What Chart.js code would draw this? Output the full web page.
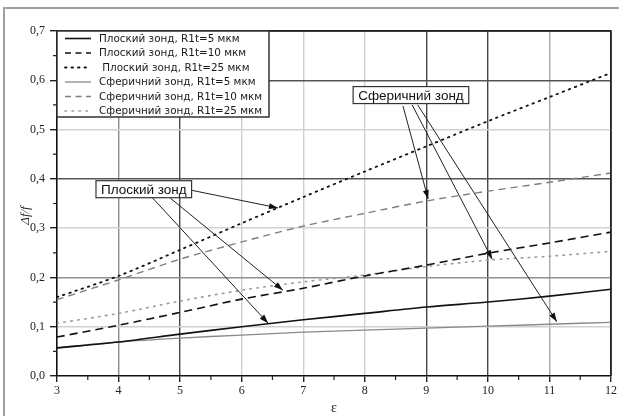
<!DOCTYPE html>
<html>
<head>
<meta charset="utf-8">
<script src="https://cdn.jsdelivr.net/npm/chart.js@4.4.1/dist/chart.umd.min.js"></script>
<style>
  html,body{margin:0;padding:0;background:#fff;}
  #wrap{position:relative;width:619px;height:416px;overflow:hidden;}
</style>
</head>
<body>
<div id="wrap"><canvas id="chart" width="619" height="416"></canvas></div>
<script>
// values
const eps = [3, 4, 5, 6, 7, 8, 9, 10, 11, 12];
const planeR5  = [0.057, 0.069, 0.085, 0.100, 0.114, 0.127, 0.140, 0.150, 0.162, 0.176];
const planeR10 = [0.079, 0.103, 0.129, 0.156, 0.178, 0.203, 0.225, 0.249, 0.270, 0.292];
const planeR25 = [0.160, 0.203, 0.256, 0.310, 0.363, 0.415, 0.466, 0.517, 0.566, 0.615];
const sphR5    = [0.057, 0.069, 0.077, 0.083, 0.089, 0.093, 0.097, 0.101, 0.105, 0.109];
const sphR10   = [0.155, 0.195, 0.237, 0.272, 0.304, 0.330, 0.355, 0.375, 0.393, 0.412];
const sphR25   = [0.107, 0.127, 0.152, 0.174, 0.191, 0.205, 0.222, 0.235, 0.243, 0.253];

const seriesLabels = [
  'Плоский зонд, R1t=5 мкм',
  'Плоский зонд, R1t=10 мкм',
  ' Плоский зонд, R1t=25 мкм',
  'Сферичний зонд, R1t=5 мкм',
  'Сферичний зонд, R1t=10 мкм',
  'Сферичний зонд, R1t=25 мкм'
];

const xTicks = [3, 4, 5, 6, 7, 8, 9, 10, 11, 12];
const xTickLabels = ['3', '4', '5', '6', '7', '8', '9', '10', '11', '12'];
const yTicks = [0, 0.1, 0.2, 0.3, 0.4, 0.5, 0.6, 0.7];
const yTickLabels = ['0,0', '0,1', '0,2', '0,3', '0,4', '0,5', '0,6', '0,7'];

const xTitle = 'ε';
const yTitle = 'Δf/f';

// callouts, in data units (eps, Δf/f)
const calloutTexts = ['Плоский зонд', 'Сферичний зонд'];
const calloutCenters = [[4.41, 0.379], [8.75, 0.570]];
const calloutArrows = [
  [[5.18, 0.377], [6.59, 0.341]],
  [[4.84, 0.361], [6.67, 0.174]],
  [[4.54, 0.363], [6.43, 0.107]],
  [[8.62, 0.548], [9.03, 0.359]],
  [[8.77, 0.550], [10.07, 0.237]],
  [[8.86, 0.550], [11.12, 0.110]]
];

// grid shading as it appears in the scan
const xGridColor = {4:'#8a8a8a', 5:'#474747', 6:'#cfcfcf', 7:'#cfcfcf', 8:'#cfcfcf', 9:'#474747', 10:'#474747', 11:'#a8a8a8', 12:'#222'};
const yGridColor = {1:'#cfcfcf', 2:'#8f8f8f', 3:'#d2d2d2', 4:'#555', 5:'#d2d2d2', 6:'#555', 7:'#222'};

const serif = '"Liberation Serif", "Times New Roman", serif';
const sans = '"Liberation Sans", Arial, sans-serif';
const wideSans = '"DejaVu Sans", Verdana, sans-serif';

const pts = (arr)=> arr.map((v, i)=>({ x: eps[i], y: v }));

const styles = [
  { color:'#111', width:1.6, dash:[] },
  { color:'#111', width:1.6, dash:[8, 5] },
  { color:'#111', width:1.8, dash:[1.5, 5] },
  { color:'#8a8a8a', width:1.3, dash:[] },
  { color:'#7d7d7d', width:1.4, dash:[7, 5] },
  { color:'#9a9a9a', width:1.6, dash:[1.5, 5.5] }
];
const seriesData = [planeR5, planeR10, planeR25, sphR5, sphR10, sphR25];

const datasets = seriesData.map((arr, i)=>({
  label: seriesLabels[i],
  data: pts(arr),
  borderColor: styles[i].color,
  borderWidth: styles[i].width,
  borderDash: styles[i].dash,
  borderCapStyle: i === 2 || i === 5 ? 'round' : 'butt',
  pointRadius: 0,
  fill: false,
  tension: 0.3
}));

const arrow = (ctx, x1, y1, x2, y2)=>{
  ctx.beginPath();
  ctx.moveTo(x1, y1);
  ctx.lineTo(x2, y2);
  ctx.stroke();
  const a = Math.atan2(y2 - y1, x2 - x1);
  const L = 9, W = 3;
  ctx.beginPath();
  ctx.moveTo(x2, y2);
  ctx.lineTo(x2 - L*Math.cos(a) + W*Math.sin(a), y2 - L*Math.sin(a) - W*Math.cos(a));
  ctx.lineTo(x2 - L*Math.cos(a) - W*Math.sin(a), y2 - L*Math.sin(a) + W*Math.cos(a));
  ctx.closePath();
  ctx.fill();
};

const extras = {
  id: 'extras',
  beforeDraw(chart){
    const ctx = chart.ctx;
    ctx.save();
    ctx.fillStyle = '#fff';
    ctx.fillRect(0, 0, chart.width, chart.height);
    // outer frame of the scan
    ctx.strokeStyle = '#a0a0a0';
    ctx.lineWidth = 2;
    ctx.strokeRect(4, 8, chart.width + 20, chart.height + 20);
    ctx.restore();
  },
  afterDatasetsDraw(chart){
    const ctx = chart.ctx;
    const xs = chart.scales.x, ys = chart.scales.y;
    const area = chart.chartArea;
    ctx.save();

    // frame top/right
    ctx.strokeStyle = '#222';
    ctx.lineWidth = 1.5;
    ctx.beginPath();
    ctx.moveTo(area.left, area.top);
    ctx.lineTo(area.right, area.top);
    ctx.lineTo(area.right, area.bottom);
    ctx.stroke();

    // minor ticks
    ctx.lineWidth = 1.2;
    ctx.beginPath();
    for(let v = 3.5; v < 12; v += 1){
      const px = xs.getPixelForValue(v);
      ctx.moveTo(px, area.bottom);
      ctx.lineTo(px, area.bottom + 4);
    }
    for(let v = 0.05; v < 0.7; v += 0.1){
      const py = ys.getPixelForValue(v);
      ctx.moveTo(area.left, py);
      ctx.lineTo(area.left - 4, py);
    }
    ctx.stroke();

    // legend
    const lx = area.left, ly = area.top, lw = 212, lh = 86;
    ctx.fillStyle = '#fff';
    ctx.fillRect(lx, ly, lw, lh);
    ctx.strokeStyle = '#333';
    ctx.lineWidth = 1.5;
    ctx.strokeRect(lx, ly, lw, lh);
    ctx.font = '10.4px ' + wideSans;
    ctx.textBaseline = 'middle';
    ctx.textAlign = 'left';
    chart.data.datasets.forEach((ds, i)=>{
      const ry = ly + 7.5 + i*14.5;
      ctx.strokeStyle = ds.borderColor;
      ctx.lineWidth = ds.borderWidth;
      ctx.lineCap = ds.borderCapStyle;
      ctx.setLineDash(i === 1 || i === 4 ? [6, 4.5] : ds.borderDash);
      ctx.beginPath();
      ctx.moveTo(lx + 8, ry);
      ctx.lineTo(lx + 34, ry);
      ctx.stroke();
      ctx.setLineDash([]);
      ctx.lineCap = 'butt';
      ctx.fillStyle = '#1a1a1a';
      ctx.fillText(ds.label, lx + 42, ry + 0.5);
    });

    // callouts
    ctx.strokeStyle = '#222';
    ctx.fillStyle = '#111';
    ctx.lineWidth = 1;
    calloutArrows.forEach(([s, e])=>{
      arrow(ctx, xs.getPixelForValue(s[0]), ys.getPixelForValue(s[1]),
                 xs.getPixelForValue(e[0]), ys.getPixelForValue(e[1]));
    });
    ctx.font = '13.5px ' + sans;
    ctx.textAlign = 'center';
    calloutTexts.forEach((t, i)=>{
      const cx = xs.getPixelForValue(calloutCenters[i][0]);
      const cy = ys.getPixelForValue(calloutCenters[i][1]);
      const w = ctx.measureText(t).width + 10, h = 17;
      ctx.fillStyle = '#fff';
      ctx.fillRect(cx - w/2, cy - h/2, w, h);
      ctx.strokeStyle = '#333';
      ctx.lineWidth = 1.2;
      ctx.strokeRect(cx - w/2, cy - h/2, w, h);
      ctx.fillStyle = '#111';
      ctx.fillText(t, cx, cy + 1);
    });

    // axis titles
    ctx.fillStyle = '#222';
    ctx.font = '14px ' + serif;
    ctx.fillText(xTitle, (area.left + area.right)/2, 408);
    ctx.translate(26, (area.top + area.bottom)/2 + 12);
    ctx.rotate(-Math.PI/2);
    ctx.font = 'italic 13px ' + serif;
    ctx.fillText(yTitle, 0, 0);
    ctx.restore();
  }
};

new Chart(document.getElementById('chart'), {
  type: 'line',
  data: { datasets },
  options: {
    responsive: false,
    devicePixelRatio: 1,
    animation: false,
    layout: { padding: { top: 31, right: 8, left: 0, bottom: 0 } },
    plugins: { legend: { display: false }, tooltip: { enabled: false } },
    scales: {
      x: {
        type: 'linear', min: 3, max: 12,
        afterFit(s){ s.height = 40; },
        afterBuildTicks(s){ s.ticks = xTicks.map(v=>({ value: v })); },
        ticks: {
          color: '#222', padding: 2, maxRotation: 0,
          font: { family: serif, size: 12 },
          callback: (v, i)=> xTickLabels[i]
        },
        grid: {
          color: (c)=> c.tick ? (xGridColor[c.tick.value] || 'rgba(0,0,0,0)') : 'rgba(0,0,0,0)',
          lineWidth: 1.4,
          tickColor: '#222',
          tickLength: 6
        },
        border: { color: '#111', width: 1.6 }
      },
      y: {
        type: 'linear', min: 0, max: 0.7,
        afterFit(s){ s.width = 57; },
        afterBuildTicks(s){ s.ticks = yTicks.map(v=>({ value: v })); },
        ticks: {
          color: '#222', padding: 5,
          font: { family: serif, size: 12 },
          callback: (v, i)=> yTickLabels[i]
        },
        grid: {
          color: (c)=> c.tick ? (yGridColor[Math.round(c.tick.value*10)] || 'rgba(0,0,0,0)') : 'rgba(0,0,0,0)',
          lineWidth: 1.4,
          tickColor: '#222',
          tickLength: 7
        },
        border: { color: '#111', width: 1.6 }
      }
    }
  },
  plugins: [extras]
});
</script>
</body>
</html>
